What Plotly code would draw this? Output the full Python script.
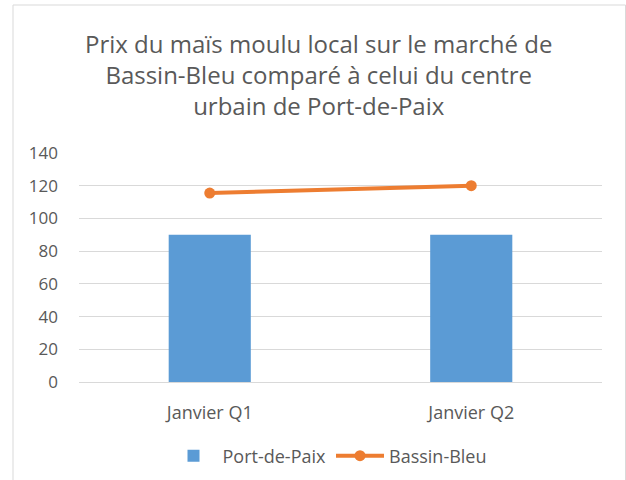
import plotly.graph_objects as go

categories = ["Janvier Q1", "Janvier Q2"]
port_de_paix = [90, 90]
bassin_bleu = [115.5, 120]
y_ticks = [0, 20, 40, 60, 80, 100, 120, 140]

W, H = 626, 480
ml, mr, mt, mb = 79, 24, 153, 98
pw = W - ml - mr
ph = H - mt - mb

def px_x(x):
    return (x - ml) / pw

def px_y(y):
    return (H - mb - y) / ph

font = "Open Sans, Lato, sans-serif"
grey = "#595959"

fig = go.Figure()
fig.add_trace(go.Bar(x=categories, y=port_de_paix, name="Port-de-Paix",
                     marker=dict(color="#5B9BD5", line=dict(width=0))))
fig.add_trace(go.Scatter(x=categories, y=bassin_bleu, name="Bassin-Bleu",
                         mode="lines+markers",
                         line=dict(color="#ED7D31", width=4),
                         marker=dict(color="#ED7D31", size=11)))

bx0, bx1, by0, by1 = px_x(13), px_x(625.5), px_y(490), px_y(5)
fig.update_layout(
    width=W, height=H,
    margin=dict(l=ml, r=mr, t=mt, b=mb, autoexpand=False),
    paper_bgcolor="white", plot_bgcolor="white",
    bargap=0.686,
    font=dict(family=font, color=grey),
    showlegend=True,
    legend=dict(orientation="h", xanchor="center", yanchor="middle",
                xref="container", yref="container",
                x=328 / W, y=(H - 456) / H, font=dict(size=18, color=grey),
                itemwidth=48, traceorder="normal"),
    annotations=[dict(
        text="Prix du maïs moulu local sur le marché de<br>Bassin-Bleu comparé à celui du centre<br>urbain de Port-de-Paix",
        xref="paper", yref="paper", x=px_x(318.5), y=px_y(74),
        xanchor="center", yanchor="middle", showarrow=False,
        font=dict(size=24, color=grey, family=font), align="center")],
    shapes=[dict(type="path", xref="paper", yref="paper",
                 path=f"M {bx0},{by0} L {bx0},{by1} L {bx1},{by1} L {bx1},{by0}",
                 line=dict(color="#d9d9d9", width=1), layer="below")],
)
fig.update_xaxes(showgrid=False, showline=True, linecolor="#d9d9d9", linewidth=1,
                 ticks="", tickfont=dict(size=18, color=grey), ticklabelstandoff=14)
fig.update_yaxes(range=[0, 140], tickvals=y_ticks, showgrid=True, gridcolor="#d9d9d9",
                 gridwidth=1, zeroline=False, showline=False, ticks="",
                 tickfont=dict(size=17, color=grey), ticklabelstandoff=20)

fig.write_html("out.html", post_script="document.body.style.margin='0';",
               config={"displayModeBar": False})
